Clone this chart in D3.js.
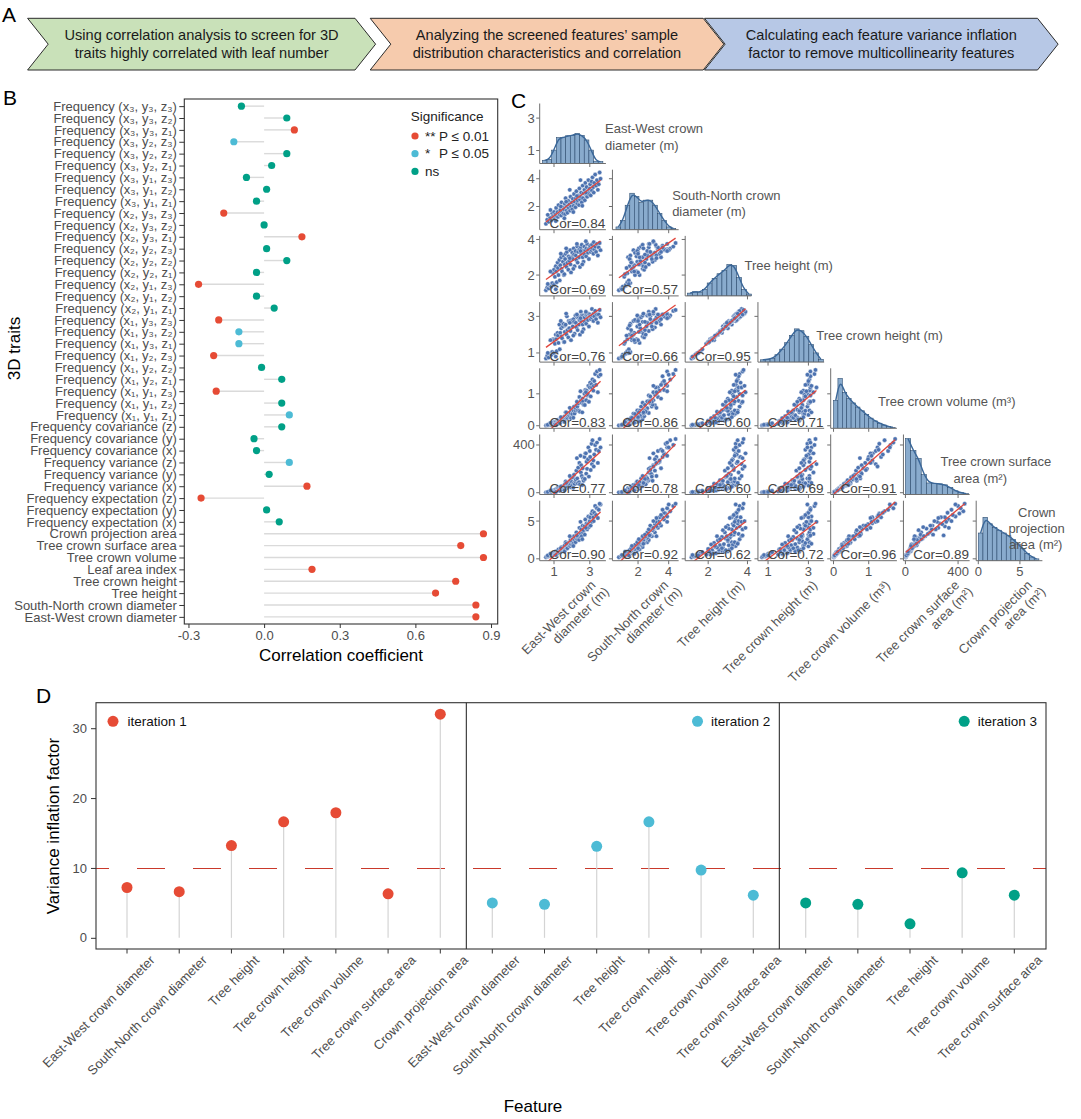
<!DOCTYPE html>
<html>
<head>
<meta charset="utf-8">
<script src="https://cdn.jsdelivr.net/npm/d3@7"></script>
<style>
  body { margin: 0; background: #fff; }
  svg { display: block; font-family: "Liberation Sans", Arial, Helvetica, sans-serif; }
</style>
</head>
<body>
<svg id="fig" width="1081" height="1119"></svg>
<script>
////////////////////////////////////////////////////////////////////////
// Data

// Panel A: workflow steps
const stepLines = [
  ["Using correlation analysis to screen for 3D", "traits highly correlated with leaf number"],
  ["Analyzing the screened features\u2019 sample", "distribution characteristics and correlation"],
  ["Calculating each feature variance inflation", "factor to remove multicollinearity features"]
];
const stepColors = ["#c9e1b9", "#f6cbad", "#b7c8e6"];

// Panel B: correlation of each 3D trait with leaf number (top to bottom)
const traitNames = [
  "Frequency (x\u2083, y\u2083, z\u2083)", "Frequency (x\u2083, y\u2083, z\u2082)", "Frequency (x\u2083, y\u2083, z\u2081)",
  "Frequency (x\u2083, y\u2082, z\u2083)", "Frequency (x\u2083, y\u2082, z\u2082)", "Frequency (x\u2083, y\u2082, z\u2081)",
  "Frequency (x\u2083, y\u2081, z\u2083)", "Frequency (x\u2083, y\u2081, z\u2082)", "Frequency (x\u2083, y\u2081, z\u2081)",
  "Frequency (x\u2082, y\u2083, z\u2083)", "Frequency (x\u2082, y\u2083, z\u2082)", "Frequency (x\u2082, y\u2083, z\u2081)",
  "Frequency (x\u2082, y\u2082, z\u2083)", "Frequency (x\u2082, y\u2082, z\u2082)", "Frequency (x\u2082, y\u2082, z\u2081)",
  "Frequency (x\u2082, y\u2081, z\u2083)", "Frequency (x\u2082, y\u2081, z\u2082)", "Frequency (x\u2082, y\u2081, z\u2081)",
  "Frequency (x\u2081, y\u2083, z\u2083)", "Frequency (x\u2081, y\u2083, z\u2082)", "Frequency (x\u2081, y\u2083, z\u2081)",
  "Frequency (x\u2081, y\u2082, z\u2083)", "Frequency (x\u2081, y\u2082, z\u2082)", "Frequency (x\u2081, y\u2082, z\u2081)",
  "Frequency (x\u2081, y\u2081, z\u2083)", "Frequency (x\u2081, y\u2081, z\u2082)", "Frequency (x\u2081, y\u2081, z\u2081)",
  "Frequency covariance (z)", "Frequency covariance (y)", "Frequency covariance (x)",
  "Frequency variance (z)", "Frequency variance (y)", "Frequency variance (x)",
  "Frequency expectation (z)", "Frequency expectation (y)", "Frequency expectation (x)",
  "Crown projection area", "Tree crown surface area", "Tree crown volume", "Leaf area index",
  "Tree crown height", "Tree height", "South-North crown diameter", "East-West crown diameter"
];
const traitCorr = [
  -0.09, 0.09, 0.12, -0.12, 0.09, 0.03, -0.07, 0.01, -0.03,
  -0.16, 0.00, 0.15, 0.01, 0.09, -0.03, -0.26, -0.03, 0.04,
  -0.18, -0.10, -0.10, -0.20, -0.01, 0.07, -0.19, 0.07, 0.10,
  0.07, -0.04, -0.03, 0.10, 0.02, 0.17, -0.25, 0.01, 0.06,
  0.87, 0.78, 0.87, 0.19, 0.76, 0.68, 0.84, 0.84
];
const traitSig = [
  "ns", "ns", "**", "*", "ns", "ns", "ns", "ns", "ns",
  "**", "ns", "**", "ns", "ns", "ns", "**", "ns", "ns",
  "**", "*", "*", "**", "ns", "ns", "**", "ns", "*",
  "ns", "ns", "ns", "*", "ns", "**", "**", "ns", "ns",
  "**", "**", "**", "**", "**", "**", "**", "**"
];
const sigLevels = ["**", "*", "ns"];
const sigStars = ["**", "*", "ns"];
const sigText = ["P \u2264 0.01", "P \u2264 0.05", ""];
const bTicks = [-0.3, 0, 0.3, 0.6, 0.9];

// Panel C: screened features of the sampled trees
const pairLabels = [
  ["East-West crown", "diameter (m)"],
  ["South-North crown", "diameter (m)"],
  ["Tree height (m)"],
  ["Tree crown height (m)"],
  ["Tree crown volume (m\u00b3)"],
  ["Tree crown surface", "area (m\u00b2)"],
  ["Crown", "projection", "area (m\u00b2)"]
];
const axisLabels = [
  ["East-West crown", "diameter (m)"],
  ["South-North crown", "diameter (m)"],
  ["Tree height (m)"],
  ["Tree crown height (m)"],
  ["Tree crown volume (m\u00b3)"],
  ["Tree crown surface", "area (m\u00b2)"],
  ["Crown projection", "area (m\u00b2)"]
];
const ewDiam = [0.55,0.62,0.70,0.78,0.85,0.90,0.95,1.00,1.00,1.05, 1.10,1.12,1.15,1.20,1.22,1.25,1.30,1.32,1.35,1.40,
  1.42,1.45,1.50,1.52,1.55,1.60,1.62,1.65,1.70,1.72, 1.75,1.80,1.82,1.85,1.90,1.92,1.95,2.00,2.02,2.05,
  2.10,2.12,2.15,2.20,2.22,2.25,2.30,2.32,2.35,2.40, 2.42,2.45,2.50,2.52,2.55,2.60,2.62,2.65,2.70,2.72,
  2.75,2.80,2.82,2.85,2.90,2.92,2.95,3.00,3.02,3.05, 3.10,3.12,3.15,3.20,3.22,3.25,3.30,3.35,3.40,3.50,
  3.60,1.38,1.68,2.08,2.28,2.58,2.78,1.10,0.65,3.45, 1.88,2.48,0.80,1.58,3.55];
const snDiam = [0.75,1.05,0.90,1.20,1.00,1.50,1.30,1.20,1.60,1.10, 1.45,1.90,1.30,1.60,1.25,2.10,1.50,1.40,1.75,1.35,
  2.30,1.60,1.95,1.50,1.80,2.20,1.45,2.60,1.70,2.00, 1.55,2.40,1.90,2.15,1.70,2.70,2.00,2.30,1.80,2.55,
  2.05,2.90,2.35,1.95,2.60,3.10,2.20,2.45,2.80,2.10, 3.30,2.50,2.70,3.00,2.30,3.50,2.60,2.95,3.20,2.45,
  3.70,2.85,3.40,2.70,3.10,3.90,2.90,3.30,3.60,2.80, 3.80,3.15,4.10,3.40,3.00,3.70,4.30,3.50,3.90,3.60,
  4.00,2.00,2.35,1.60,2.75,2.05,3.00,0.95,1.40,3.20, 3.20,3.90,1.75,1.15,4.45];
const treeHeight = [1.15,1.30,1.25,1.40,1.35,1.55,2.10,1.45,2.30,1.90, 2.50,2.20,1.60,2.70,2.40,2.00,2.85,1.70,2.55,3.00,
  2.35,2.20,2.75,3.10,2.00,2.60,2.90,3.20,2.45,3.30, 2.70,2.30,3.05,2.80,3.40,2.60,2.15,3.00,3.25,2.90,
  3.50,3.15,2.50,3.35,3.10,2.85,3.60,2.70,3.30,3.00, 3.45,2.45,3.55,3.20,3.70,3.00,3.35,2.75,3.60,3.15,
  3.40,3.05,3.50,3.75,3.25,3.45,2.90,3.55,3.65,3.30, 3.40,3.70,3.50,3.20,3.85,3.45,3.60,3.30,3.75,3.55,
  3.40,3.20,3.50,2.35,3.75,2.60,3.90,1.20,1.50,3.10, 2.95,3.35,2.20,2.05,3.80];
const crownHeight = [0.70,0.85,0.75,0.95,0.90,1.05,1.75,1.00,1.70,1.50, 2.00,1.75,1.10,2.10,1.95,1.55,2.55,1.20,2.10,2.35,
  1.90,1.80,2.45,2.60,1.60,2.15,2.50,2.55,2.00,3.00, 2.25,1.85,2.75,2.35,2.75,2.20,1.70,2.70,2.80,2.45,
  2.85,2.70,2.05,3.05,2.65,2.40,2.95,2.25,3.00,2.55, 2.80,2.00,3.25,2.75,3.05,2.55,3.05,2.30,2.95,2.70,
  3.10,2.60,3.05,3.10,2.80,3.15,2.45,3.10,3.00,2.85, 2.95,3.40,3.05,2.75,3.15,3.00,3.30,2.85,3.10,3.10,
  2.95,2.75,3.15,1.95,3.10,2.15,3.25,0.80,1.00,2.65, 2.65,2.90,1.70,1.60,3.35];
const crownVolume = [0.01,0.02,0.02,0.03,0.03,0.06,0.07,0.05,0.11,0.06, 0.13,0.12,0.06,0.18,0.10,0.15,0.16,0.08,0.19,0.20,
  0.22,0.16,0.26,0.22,0.16,0.29,0.20,0.42,0.23,0.34, 0.25,0.30,0.36,0.33,0.38,0.40,0.24,0.46,0.37,0.50,
  0.47,0.60,0.38,0.48,0.55,0.64,0.60,0.48,0.70,0.47, 0.90,0.44,0.78,0.80,0.72,0.85,0.76,0.66,1.00,0.65,
  1.12,0.80,1.10,0.95,0.98,1.25,0.75,1.20,1.35,0.92, 1.30,1.20,1.45,1.10,1.25,1.40,1.62,1.28,1.70,1.55,
  1.60,0.27,0.42,0.25,0.75,0.42,1.05,0.03,0.03,1.05, 0.56,1.08,0.09,0.12,1.75];
const crownSurface = [3,5,4,8,6,14,15,10,22,12, 25,30,13,40,18,35,28,16,45,38,
  55,30,48,42,36,70,32,95,40,60, 52,75,85,58,66,105,45,90,62,130,
  80,150,72,95,110,185,120,78,210,88, 250,70,170,230,140,205,120,100,300,115,
  330,160,260,200,280,380,135,350,300,190, 410,240,440,270,220,320,400,360,420,350,
  380,50,82,42,290,65,330,6,7,250, 140,310,18,20,450];
const crownProj = [0.21,0.30,0.33,0.45,0.40,0.70,0.58,0.65,0.78,0.55, 0.85,1.00,0.72,1.05,0.74,1.25,0.95,0.88,1.20,1.00,
  1.55,1.15,1.50,1.20,1.30,1.80,1.15,2.20,1.50,1.65, 1.40,2.10,1.80,1.95,1.70,2.50,1.90,2.35,1.85,2.70,
  2.10,3.00,2.45,2.20,2.80,3.50,2.60,2.90,3.20,2.50, 4.10,3.00,3.30,3.90,3.00,4.40,3.50,3.80,4.30,3.20,
  5.20,4.00,4.70,3.90,4.60,5.60,4.20,5.00,5.50,4.40, 6.00,4.90,6.30,5.50,5.00,6.10,7.00,5.80,6.70,6.50,
  7.20,1.40,2.00,1.70,3.10,2.60,4.10,0.50,0.45,5.40, 3.00,4.90,0.68,0.95,7.30];
// printed correlation in each lower-triangle panel, by row then column
const pairCor = [
  [],
  [0.84],
  [0.69, 0.57],
  [0.76, 0.66, 0.95],
  [0.83, 0.86, 0.60, 0.71],
  [0.77, 0.78, 0.60, 0.69, 0.91],
  [0.90, 0.92, 0.62, 0.72, 0.96, 0.89]
];
const pairDomains = [[0.2, 3.9], [0.33, 4.65], [0.83, 4.2], [0.5, 3.78], [-0.08, 1.8], [-15, 488], [-0.25, 7.7]];
const pairTicks = [[1, 3], [2, 4], [2, 4], [1, 3], [0, 1], [0, 400], [0, 5]];
// diagonal histograms: first bin edge, bin width, counts (shared count axis)
const histStart = [0.35, 0.56, 0.95, 0.62, 0, 0, 0];
const histWidth = [0.26, 0.30, 0.25, 0.24, 0.125, 40, 0.56];
const histCounts = [
  [7, 9, 29, 56, 56, 60, 61, 65, 61, 51, 29, 5, 4],
  [6, 20, 53, 79, 72, 59, 64, 64, 53, 35, 20, 6, 3],
  [6, 9, 8, 14, 28, 38, 48, 55, 68, 66, 40, 14, 4],
  [5, 6, 8, 16, 28, 42, 58, 72, 68, 56, 38, 20, 6],
  [60, 108, 78, 65, 55, 46, 38, 30, 22, 16, 11, 7, 4, 2],
  [121, 95, 78, 43, 25, 24, 23, 21, 15, 8, 4, 2],
  [60, 94, 80, 72, 66, 60, 54, 46, 36, 26, 16, 8, 4]
];
const histMax = 130;

// Panel D: variance inflation factor per iteration
const iterLabels = ["iteration 1", "iteration 2", "iteration 3"];
const vifNames1 = ["East-West crown diameter", "South-North crown diameter", "Tree height", "Tree crown height",
  "Tree crown volume", "Tree crown surface area", "Crown projection area"];
const vifValues1 = [7.2, 6.6, 13.2, 16.6, 17.9, 6.3, 32.0];
const vifNames2 = ["East-West crown diameter", "South-North crown diameter", "Tree height", "Tree crown height",
  "Tree crown volume", "Tree crown surface area"];
const vifValues2 = [5.0, 4.8, 13.1, 16.6, 9.7, 6.1];
const vifNames3 = ["East-West crown diameter", "South-North crown diameter", "Tree height",
  "Tree crown volume", "Tree crown surface area"];
const vifValues3 = [5.0, 4.8, 2.0, 9.3, 6.1];
const vifThreshold = 10;
const dTicks = [0, 10, 20, 30];


////////////////////////////////////////////////////////////////////////
// Shared styles

const svg = d3.select("#fig");
const defs = svg.append("defs");
const gray = "#4d4d4d";
const red = "#E64B35", blue = "#4DBBD5", green = "#00A087";
const sigColor = d3.scaleOrdinal().domain(sigLevels).range([red, blue, green]);

function panelLetter(txt, x, y) {
  svg.append("text").attr("x", x).attr("y", y).attr("font-size", 21).attr("fill", "#000").text(txt);
}


////////////////////////////////////////////////////////////////////////
// Panel A: three chevrons

panelLetter("A", 2, 22);
const chevTop = 18.3, chevBot = 70, chevDepth = 20.6;
const chevLeft = [27.6, 370.2, 704.5], chevRight = [355, 703.2, 1037.5];
stepLines.forEach(function(lines, i) {
  const x0 = chevLeft[i], x1 = chevRight[i], mid = (chevTop + chevBot) / 2;
  const p = d3.path();
  p.moveTo(x0, chevTop); p.lineTo(x1, chevTop); p.lineTo(x1 + chevDepth, mid);
  p.lineTo(x1, chevBot); p.lineTo(x0, chevBot); p.lineTo(x0 + chevDepth, mid); p.closePath();
  svg.append("path").attr("d", p.toString())
    .attr("fill", stepColors[i]).attr("stroke", "#2b2b2b").attr("stroke-width", 1);
  const t = svg.append("text").attr("text-anchor", "middle")
    .attr("font-size", 14.6).attr("fill", "#1a1a1a");
  lines.forEach(function(l, j) {
    t.append("tspan").attr("x", (x0 + x1 + chevDepth) / 2).attr("y", 39.5 + j * 18.3).text(l);
  });
});


////////////////////////////////////////////////////////////////////////
// Panel B: lollipop of correlation coefficients

panelLetter("B", 3, 105);
const bLeft = 184.3, bRight = 497.7, bTop = 99, bBot = 624;
const bX = d3.scaleLinear().domain([-0.3165, 0.9265]).range([bLeft, bRight]);
const bY = d3.scalePoint().domain(traitNames).range([bTop, bBot]).padding(0.6);
const gB = svg.append("g");

gB.selectAll(".seg").data(traitNames).join("line").attr("class", "seg")
  .attr("x1", bX(0)).attr("x2", (d, i) => bX(traitCorr[i]))
  .attr("y1", d => bY(d)).attr("y2", d => bY(d))
  .attr("stroke", "#dadada").attr("stroke-width", 1.4);
gB.selectAll(".dot").data(traitNames).join("circle").attr("class", "dot")
  .attr("cx", (d, i) => bX(traitCorr[i])).attr("cy", d => bY(d)).attr("r", 3.6)
  .attr("fill", (d, i) => sigColor(traitSig[i]));
gB.append("rect").attr("x", bLeft).attr("y", bTop).attr("width", bRight - bLeft).attr("height", bBot - bTop)
  .attr("fill", "none").attr("stroke", "#333").attr("stroke-width", 1.1);

let ax = gB.append("g").attr("transform", `translate(${bLeft},0)`)
  .call(d3.axisLeft(bY).tickSize(5).tickPadding(2.5));
ax.select(".domain").remove();
ax.selectAll("line").attr("stroke", "#333");
ax.selectAll("text").attr("fill", gray).attr("font-size", 13).attr("font-family", null);

ax = gB.append("g").attr("transform", `translate(0,${bBot})`)
  .call(d3.axisBottom(bX).tickValues(bTicks).tickFormat(d => d.toFixed(1)).tickSize(4).tickPadding(3));
ax.select(".domain").remove();
ax.selectAll("line").attr("stroke", "#333");
ax.selectAll("text").attr("fill", gray).attr("font-size", 13).attr("font-family", null);

gB.append("text").attr("x", (bLeft + bRight) / 2).attr("y", 661).attr("text-anchor", "middle")
  .attr("font-size", 17).text("Correlation coefficient");
gB.append("text").attr("transform", "translate(19.5,348.5) rotate(-90)").attr("text-anchor", "middle")
  .attr("font-size", 17).text("3D traits");

// legend
gB.append("text").attr("x", 410.7).attr("y", 120.5).attr("font-size", 13.5).attr("fill", "#222").text("Significance");
sigLevels.forEach(function(s, i) {
  const y = 136 + i * 17.7;
  gB.append("circle").attr("cx", 415).attr("cy", y).attr("r", 3.6).attr("fill", sigColor(s));
  gB.append("text").attr("x", 425).attr("y", y + 4.6).attr("font-size", 13.5).attr("fill", "#222").text(sigStars[i]);
  gB.append("text").attr("x", 439).attr("y", y + 4.6).attr("font-size", 13.5).attr("fill", "#222").text(sigText[i]);
});


////////////////////////////////////////////////////////////////////////
// Panel C: pair plot

panelLetter("C", 511, 108);
const cLeft = 539.7, cTop = 103.5, cStepX = 72.75, cStepY = 66.2, cW = 66.2, cH = 60;
const pairData = [ewDiam, snDiam, treeHeight, crownHeight, crownVolume, crownSurface, crownProj];
const cX = pairDomains.map((dom, k) => d3.scaleLinear().domain(dom).range([cLeft + k * cStepX, cLeft + k * cStepX + cW]));
const cY = pairDomains.map((dom, k) => d3.scaleLinear().domain(dom).range([cTop + k * cStepY + cH, cTop + k * cStepY]));
const spine = "#6e6e6e";
const ptColor = "#4c72b0";

function linFit(xs, ys) {
  const mx = d3.mean(xs), my = d3.mean(ys);
  const b = d3.sum(xs, (x, i) => (x - mx) * (ys[i] - my)) / d3.sum(xs, x => (x - mx) * (x - mx));
  return x => my + b * (x - mx);
}

const gC = svg.append("g");
for (let r = 0; r < 7; r++) {
  for (let c = 0; c <= r; c++) {
    const x0 = cLeft + c * cStepX, y0 = cTop + r * cStepY;
    const id = "clip" + r + "_" + c;
    defs.append("clipPath").attr("id", id).append("rect")
      .attr("x", x0).attr("y", y0 - 2).attr("width", cW + 2).attr("height", cH + 2);
    const g = gC.append("g");
    const body = g.append("g").attr("clip-path", `url(#${id})`);

    if (r === c) {
      // histogram with smoothed outline
      const hy = d3.scaleLinear().domain([0, histMax]).range([y0 + cH, y0]);
      const bins = histCounts[r].map((n, i) => ({x0: histStart[r] + i * histWidth[r], x1: histStart[r] + (i + 1) * histWidth[r], n: n}));
      body.selectAll("rect").data(bins).join("rect")
        .attr("x", d => cX[c](d.x0)).attr("width", d => cX[c](d.x1) - cX[c](d.x0))
        .attr("y", d => hy(d.n)).attr("height", d => hy(0) - hy(d.n))
        .attr("fill", "#89abcd").attr("stroke", "#2e4d70").attr("stroke-width", 0.6);
      body.append("path")
        .attr("d", d3.line().curve(d3.curveBasis).x(d => cX[c]((d.x0 + d.x1) / 2)).y(d => hy(d.n))(bins))
        .attr("fill", "none").attr("stroke", "#3a6799").attr("stroke-width", 1.4);
    } else {
      const xs = pairData[c], ys = pairData[r];
      body.selectAll("circle").data(xs).join("circle")
        .attr("cx", d => cX[c](d)).attr("cy", (d, i) => cY[r](ys[i])).attr("r", 2.2)
        .attr("fill", ptColor).attr("stroke", "#fff").attr("stroke-width", 0.4);
      const f = linFit(xs, ys);
      const ext = d3.extent(xs);
      body.append("line")
        .attr("x1", cX[c](ext[0])).attr("y1", cY[r](f(ext[0])))
        .attr("x2", cX[c](ext[1])).attr("y2", cY[r](f(ext[1])))
        .attr("stroke", "#e2463c").attr("stroke-width", 1.3);
      g.append("text").attr("x", x0 + cW - 0.5).attr("y", y0 + cH - 1.5).attr("text-anchor", "end")
        .attr("font-size", 13.5).attr("fill", "#444").text("Cor=" + pairCor[r][c].toFixed(2));
    }

    // spines and ticks
    g.append("line").attr("x1", x0).attr("x2", x0).attr("y1", y0).attr("y2", y0 + cH).attr("stroke", spine);
    g.append("line").attr("x1", x0).attr("x2", x0 + cW).attr("y1", y0 + cH).attr("y2", y0 + cH).attr("stroke", spine);
    pairTicks[c].forEach(v => g.append("line").attr("x1", cX[c](v)).attr("x2", cX[c](v))
      .attr("y1", y0 + cH).attr("y2", y0 + cH + 3.5).attr("stroke", spine));
    pairTicks[r].forEach(v => g.append("line").attr("x1", x0 - 3.5).attr("x2", x0)
      .attr("y1", cY[r](v)).attr("y2", cY[r](v)).attr("stroke", spine));
  }
  // row tick labels
  pairTicks[r].forEach(v => gC.append("text").attr("x", cLeft - 5).attr("y", cY[r](v) + 4.5)
    .attr("text-anchor", "end").attr("font-size", 13).attr("fill", "#555").text(v));
  // column tick labels under the last row
  pairTicks[r].forEach(v => gC.append("text").attr("x", cX[r](v)).attr("y", 576)
    .attr("text-anchor", "middle").attr("font-size", 13).attr("fill", "#555").text(v));
}

// diagonal variable names
const diagLabelPos = [
  {dx: [65.3, 65.3], dy: [29.5, 46.5]},
  {dx: [59.7, 59.7], dy: [30.3, 46.3]},
  {dx: [59.3], dy: [33.6]},
  {dx: [58.3], dy: [37.4]},
  {dx: [47.3], dy: [37.7]},
  {dx: [37, 50.1], dy: [31.5, 48.5]},
  {dx: [41.8, 32.2, 32.8], dy: [16, 32, 48]}
];
pairLabels.forEach(function(lines, k) {
  const t = gC.append("text").attr("font-size", 13).attr("fill", "#555");
  lines.forEach((l, j) => t.append("tspan")
    .attr("x", cLeft + k * cStepX + diagLabelPos[k].dx[j])
    .attr("y", cTop + k * cStepY + diagLabelPos[k].dy[j]).text(l));
});

// rotated axis titles under the columns
axisLabels.forEach(function(lines, k) {
  const cxm = cLeft + k * cStepX + cW / 2;
  const ox = lines.length === 1 ? 27 : 23.5;
  const t = gC.append("text").attr("transform", `translate(${cxm + ox},586) rotate(-45)`)
    .attr("text-anchor", "end").attr("font-size", 13).attr("fill", "#555");
  lines.forEach((l, j) => t.append("tspan").attr("x", j * 5).attr("dy", j === 0 ? 0 : 14).text(l));
});


////////////////////////////////////////////////////////////////////////
// Panel D: VIF lollipops faceted by iteration

panelLetter("D", 36, 703);
const dTop = 702.7, dBot = 949, dLeft = 96, dRight = 1046;
const dY = d3.scaleLinear().domain([-1.6, 33.65]).range([dBot, dTop]);
const facets = [
  {names: vifNames1, vals: vifValues1, color: red, x0: 96, x1: 466.3, padL: 31, padR: 26},
  {names: vifNames2, vals: vifValues2, color: blue, x0: 466.3, x1: 779.3, padL: 26, padR: 26},
  {names: vifNames3, vals: vifValues3, color: green, x0: 779.3, x1: 1046, padL: 26.4, padR: 31.7}
];
const gD = svg.append("g");

gD.append("line").attr("x1", dLeft).attr("x2", dRight)
  .attr("y1", Math.round(dY(vifThreshold)) + 0.5).attr("y2", Math.round(dY(vifThreshold)) + 0.5)
  .attr("stroke", "#c9392b").attr("stroke-width", 1.1)
  .attr("stroke-dasharray", "28,28").attr("stroke-dashoffset", 15);

facets.forEach(function(f, k) {
  const x = d3.scalePoint().domain(f.names).range([f.x0 + f.padL, f.x1 - f.padR]);
  const g = gD.append("g");
  g.selectAll(".stem").data(f.names).join("line").attr("class", "stem")
    .attr("x1", d => x(d)).attr("x2", d => x(d))
    .attr("y1", dY(0)).attr("y2", (d, i) => dY(f.vals[i]))
    .attr("stroke", "#d4d4d4").attr("stroke-width", 1.2);
  g.selectAll(".pt").data(f.names).join("circle").attr("class", "pt")
    .attr("cx", d => x(d)).attr("cy", (d, i) => dY(f.vals[i])).attr("r", 5.5)
    .attr("fill", f.color);

  // x ticks and rotated labels
  g.selectAll(".xt").data(f.names).join("line").attr("class", "xt")
    .attr("x1", d => x(d)).attr("x2", d => x(d)).attr("y1", dBot).attr("y2", dBot + 4.5)
    .attr("stroke", "#333");
  g.selectAll(".xl").data(f.names).join("text").attr("class", "xl")
    .attr("transform", d => `translate(${x(d) + 28.5},961) rotate(-45)`)
    .attr("text-anchor", "end").attr("font-size", 13).attr("fill", gray).text(d => d);

  // legend key
  const lg = g.append("g");
  const lt = lg.append("text").attr("y", 726).attr("font-size", 13.5).attr("fill", "#111").text(iterLabels[k]);
  if (k === 0) {
    lt.attr("x", 127.4);
    lg.append("circle").attr("cx", 113).attr("cy", 721.3).attr("r", 5.5).attr("fill", f.color);
  } else {
    lt.attr("x", f.x1 - 9).attr("text-anchor", "end");
    const w = lt.node().getComputedTextLength();
    lg.append("circle").attr("cx", f.x1 - 9 - w - 13.5).attr("cy", 721.3).attr("r", 5.5).attr("fill", f.color);
  }
  if (k > 0) {
    gD.append("line").attr("x1", f.x0).attr("x2", f.x0).attr("y1", dTop).attr("y2", dBot)
      .attr("stroke", "#1a1a1a").attr("stroke-width", 1);
  }
});

gD.append("rect").attr("x", dLeft).attr("y", dTop).attr("width", dRight - dLeft).attr("height", dBot - dTop)
  .attr("fill", "none").attr("stroke", "#333").attr("stroke-width", 1.1);

ax = gD.append("g").attr("transform", `translate(${dLeft},0)`)
  .call(d3.axisLeft(dY).tickValues(dTicks).tickSize(5).tickPadding(4));
ax.select(".domain").remove();
ax.selectAll("line").attr("stroke", "#333");
ax.selectAll("text").attr("fill", gray).attr("font-size", 13).attr("font-family", null);

gD.append("text").attr("transform", "translate(59,826) rotate(-90)").attr("text-anchor", "middle")
  .attr("font-size", 17).text("Variance inflation factor");
gD.append("text").attr("x", 533).attr("y", 1112).attr("text-anchor", "middle")
  .attr("font-size", 17).text("Feature");
</script>
</body>
</html>
